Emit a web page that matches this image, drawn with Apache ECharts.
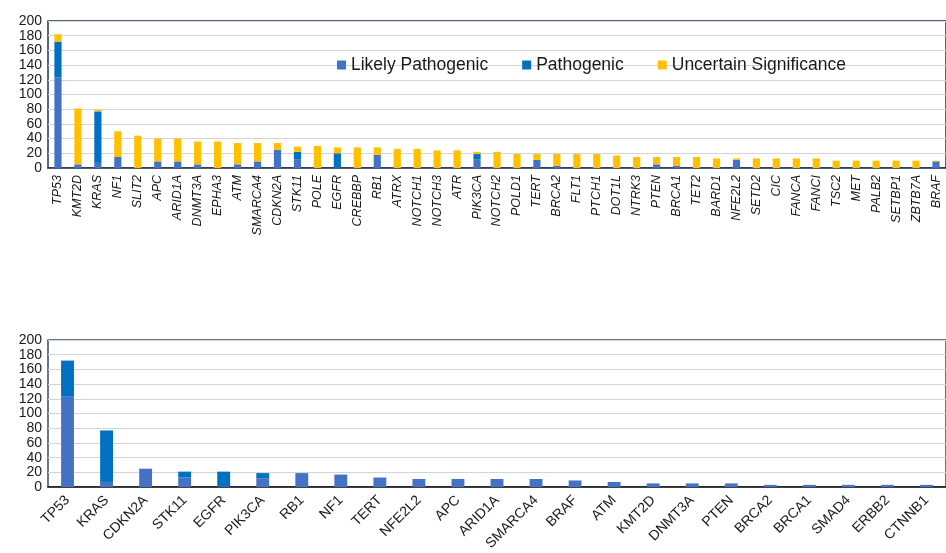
<!DOCTYPE html>
<html>
<head>
<meta charset="utf-8">
<title>Variant classification by gene</title>
<script src="https://cdn.jsdelivr.net/npm/echarts@6/dist/echarts.min.js"></script>
<style>
  html, body { margin: 0; padding: 0; background: #ffffff; }
  #chart { width: 946px; height: 553px; }
</style>
</head>
<body>
<div id="chart"></div>
<script>
// Upper panel: all classified variants per gene
const genesAll = ['TP53', 'KMT2D', 'KRAS', 'NF1', 'SLIT2', 'APC', 'ARID1A', 'DNMT3A', 'EPHA3', 'ATM',
  'SMARCA4', 'CDKN2A', 'STK11', 'POLE', 'EGFR', 'CREBBP', 'RB1', 'ATRX', 'NOTCH1', 'NOTCH3',
  'ATR', 'PIK3CA', 'NOTCH2', 'POLD1', 'TERT', 'BRCA2', 'FLT1', 'PTCH1', 'DOT1L', 'NTRK3',
  'PTEN', 'BRCA1', 'TET2', 'BARD1', 'NFE2L2', 'SETD2', 'CIC', 'FANCA', 'FANCI', 'TSC2',
  'MET', 'PALB2', 'SETBP1', 'ZBTB7A', 'BRAF'];
const likelyPathAll = [123, 5, 7, 15, 0, 9, 9, 5, 0, 5,
  9, 25, 12, 0, 0, 0, 18, 0, 0, 0,
  0, 12, 0, 0, 11, 3, 0, 0, 0, 0,
  5, 3, 0, 0, 11, 0, 0, 0, 0, 0,
  0, 0, 0, 0, 9];
const pathAll = [49, 0, 70, 0, 0, 0, 0, 0, 0, 0,
  0, 0, 10, 0, 20, 0, 0, 0, 0, 0,
  0, 7, 0, 0, 0, 0, 0, 0, 0, 0,
  0, 0, 0, 0, 0, 0, 0, 0, 0, 0,
  0, 0, 0, 0, 0];
const uncertainAll = [10, 76, 2, 35, 44, 31, 31, 31, 36, 29,
  25, 9, 7, 30, 8, 28, 10, 26, 26, 24,
  24, 3, 22, 19, 8, 16, 19, 19, 17, 15,
  10, 12, 15, 13, 2, 13, 13, 13, 13, 10,
  10, 10, 10, 10, 1];

// Lower panel: pathogenic and likely pathogenic variants only
const genesPath = ['TP53', 'KRAS', 'CDKN2A', 'STK11', 'EGFR', 'PIK3CA', 'RB1', 'NF1', 'TERT', 'NFE2L2',
  'APC', 'ARID1A', 'SMARCA4', 'BRAF', 'ATM', 'KMT2D', 'DNMT3A', 'PTEN', 'BRCA2', 'BRCA1',
  'SMAD4', 'ERBB2', 'CTNNB1'];
const likelyPathSub = [123, 7, 25, 13, 0, 12, 19, 17, 13, 11,
  11, 11, 11, 9, 7, 5, 5, 5, 3, 3,
  3, 3, 3];
const pathSub = [49, 70, 0, 8, 21, 7, 0, 0, 0, 0,
  0, 0, 0, 0, 0, 0, 0, 0, 0, 0,
  0, 0, 0];

const yTicks = { min: 0, max: 200, interval: 20 };

const COLORS = { likely: '#4472C4', path: '#0070C0', uncertain: '#FFC000' };
const FONT = "'Liberation Sans', Arial, sans-serif";

const chart = echarts.init(document.getElementById('chart'), null, { renderer: 'canvas' });

function valueAxis(gridIndex) {
  return {
    type: 'value',
    gridIndex: gridIndex,
    min: yTicks.min,
    max: yTicks.max,
    interval: yTicks.interval,
    axisLine: { show: false },
    axisTick: { show: false },
    axisLabel: {
      color: '#1a1a1a', fontSize: 14, fontFamily: FONT, margin: 6,
      showMinLabel: true, showMaxLabel: true, hideOverlap: false
    },
    splitLine: { lineStyle: { color: '#d4d4d4', width: 1.2 } }
  };
}

chart.setOption({
  animation: false,
  backgroundColor: '#ffffff',
  textStyle: { fontFamily: FONT },
  legend: {
    data: ['Likely Pathogenic', 'Pathogenic', 'Uncertain Significance'],
    left: 332,
    top: 51,
    icon: 'rect',
    itemWidth: 9,
    itemHeight: 9,
    itemGap: 34,
    textStyle: { fontSize: 17.5, color: '#1a1a1a', fontFamily: FONT }
  },
  grid: [
    { left: 48, top: 21, width: 907, height: 147, show: true, borderColor: '#1f3557', borderWidth: 1.5, containLabel: false },
    { left: 48, top: 340, width: 909, height: 148, show: true, borderColor: '#3a4a63', borderWidth: 1.5, containLabel: false }
  ],
  xAxis: [
    {
      type: 'category',
      gridIndex: 0,
      data: genesAll,
      axisLine: { lineStyle: { color: '#1f3557', width: 1.5 } },
      axisTick: { show: false },
      axisLabel: {
        rotate: 90,
        interval: 0,
        margin: 7,
        fontSize: 12.5,
        fontStyle: 'italic',
        color: '#1a1a1a',
        fontFamily: FONT
      }
    },
    {
      type: 'category',
      gridIndex: 1,
      data: genesPath,
      axisLine: { lineStyle: { color: '#111111', width: 1.5 } },
      axisTick: { show: false },
      axisLabel: {
        rotate: 45,
        interval: 0,
        margin: 11,
        fontSize: 14,
        color: '#1a1a1a',
        fontFamily: FONT
      }
    }
  ],
  yAxis: [valueAxis(0), valueAxis(1)],
  series: [
    {
      name: 'Likely Pathogenic', type: 'bar', stack: 'all', xAxisIndex: 0, yAxisIndex: 0,
      data: likelyPathAll, barWidth: '36%', itemStyle: { color: COLORS.likely }
    },
    {
      name: 'Pathogenic', type: 'bar', stack: 'all', xAxisIndex: 0, yAxisIndex: 0,
      data: pathAll, barWidth: '36%', itemStyle: { color: COLORS.path }
    },
    {
      name: 'Uncertain Significance', type: 'bar', stack: 'all', xAxisIndex: 0, yAxisIndex: 0,
      data: uncertainAll, barWidth: '36%', itemStyle: { color: COLORS.uncertain }
    },
    {
      name: 'Likely Pathogenic', type: 'bar', stack: 'sub', xAxisIndex: 1, yAxisIndex: 1,
      data: likelyPathSub, barWidth: '33%', itemStyle: { color: COLORS.likely }
    },
    {
      name: 'Pathogenic', type: 'bar', stack: 'sub', xAxisIndex: 1, yAxisIndex: 1,
      data: pathSub, barWidth: '33%', itemStyle: { color: COLORS.path }
    }
  ]
});
</script>
</body>
</html>
